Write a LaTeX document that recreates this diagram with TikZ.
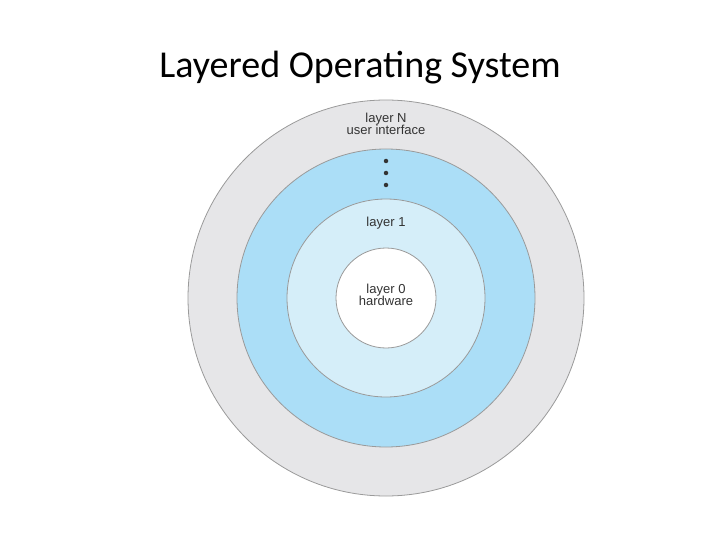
\documentclass[tikz,border=0pt]{standalone}
\usepackage{fontspec}
\setmainfont{Carlito}
\newfontfamily\lab{Liberation Sans}
\definecolor{ringgrey}{HTML}{E6E6E8}
\definecolor{ringblue}{HTML}{ABDEF7}
\definecolor{ringlight}{HTML}{D5EEF9}
\definecolor{edge}{HTML}{9A9A9A}
\begin{document}
\begin{tikzpicture}[x=1pt,y=-1pt,
  ring/.style={draw=edge,line width=0.8pt},
  lbl/.style={font=\lab\fontsize{13}{15}\selectfont,text=black!80,align=center},
  dot/.style={circle,fill=black!80,inner sep=0pt,minimum size=4.5pt}]
\useasboundingbox (0,0) rectangle (720,540);
\node[font=\fontsize{38}{44}\selectfont] (title) at (360,68) {Layered Operating System};
\coordinate (c) at (386,298);
\draw[ring,fill=ringgrey] (c) circle[radius=198];
\draw[ring,fill=ringblue] (c) circle[radius=149];
\draw[ring,fill=ringlight] (c) circle[radius=99];
\draw[ring,fill=white] (c) circle[radius=50];
\node[lbl] (ln) at (386,124) {layer N\\[-3pt]user interface};
\node[dot] (d1) at (386,161) {};
\node[dot] (d2) at (386,173) {};
\node[dot] (d3) at (386,185) {};
\node[lbl] (l1) at (386,223) {layer 1};
\node[lbl] (l0) at (386,295) {layer 0\\[-3pt]hardware};
\end{tikzpicture}
\end{document}
